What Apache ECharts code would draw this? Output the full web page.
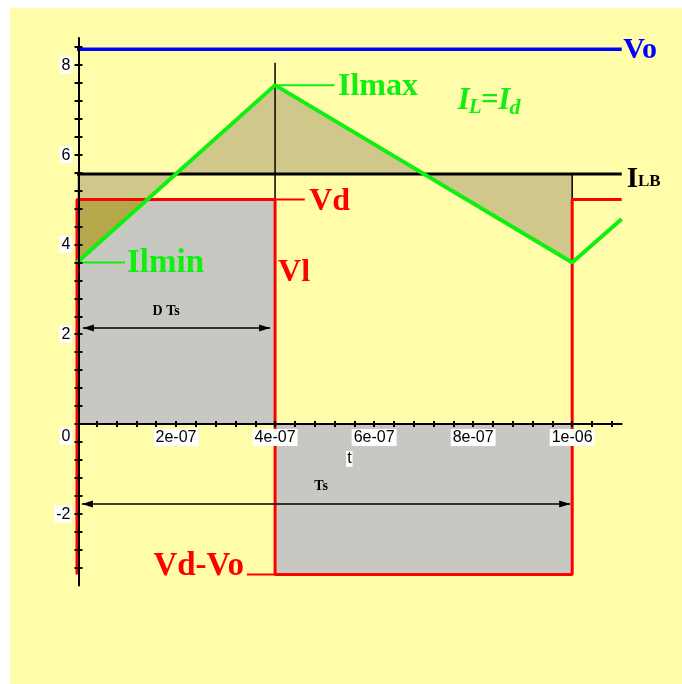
<!DOCTYPE html>
<html>
<head>
<meta charset="utf-8">
<script src="https://cdn.jsdelivr.net/npm/echarts@6/dist/echarts.min.js"></script>
<style>
  html, body { margin: 0; padding: 0; background: #ffffff; }
  #chart { width: 682px; height: 684px; }
</style>
</head>
<body>
<div id="chart"></div>
<script>
// Buck converter: inductor voltage and current over one switching period

// levels
const Vd = 5.0;       // input level
const Vo = 8.35;      // output level
const ILB = 5.57;     // boundary current
const ILmin = 3.6;
const ILmax = 7.55;
const DTs = 4e-7;     // on-time
const Ts = 1e-6;      // period
const tEnd = 1.1e-6;

// waveforms
const inductorVoltage = [[0, Vd - Vo], [0, Vd], [DTs, Vd], [DTs, Vd - Vo], [Ts, Vd - Vo], [Ts, Vd], [tEnd, Vd]];
const inductorCurrent = [[0, ILmin], [DTs, ILmax], [Ts, ILmin], [tEnd, 4.57]];
const outputLevel = [[0, Vo], [tEnd, Vo]];
const boundaryLevel = [[0, ILB], [tEnd, ILB]];

// axis ticks
const xTickValues = [2e-7, 4e-7, 6e-7, 8e-7, 1e-6];
const xTickLabels = ['2e-07', '4e-07', '6e-07', '8e-07', '1e-06'];
const yTickValues = [-2, 0, 2, 4, 6, 8];
const yTickLabels = ['-2', '0', '2', '4', '6', '8'];
const yMin = -3.6, yMax = 8.6;

const xMinor = [];
for (let k = 1; k <= 27; k++) xMinor.push(k * 4e-8);
const yMinor = [];
for (let k = -8; k <= 21; k++) yMinor.push(Math.round(k * 4) / 10);

const SERIF = "'Liberation Serif', 'DejaVu Serif', serif";
const SANS = "'Liberation Sans', Arial, sans-serif";
const RED = '#ff0000', GREEN = '#10f010', BLUE = '#0000ff', BLACK = '#000000';

// point where the rising current reaches Vd (edge of the overlap region)
const tCross = (Vd - ILmin) / (ILmax - ILmin) * DTs;

// filled regions
const regions = [
  { fill: '#c8c8c2', pts: [[0, 0], [0, Vd], [DTs, Vd], [DTs, 0]] },
  { fill: '#c8c8c2', pts: [[DTs, 0], [DTs, Vd - Vo], [Ts, Vd - Vo], [Ts, 0]] },
  { fill: '#d0c88a', pts: [[0, ILmin], [DTs, ILmax], [Ts, ILmin], [Ts, ILB], [0, ILB]] },
  { fill: '#b5a84a', pts: [[0, ILmin], [tCross, Vd], [0, Vd]] }
];

// dimension arrows
const arrows = [
  { t0: 1.2e-8, t1: 3.9e-7, v: 2.14 },
  { t0: 1.0e-8, t1: 9.96e-7, v: -1.78 }
];

// text annotations, anchored in data units
const notes = [
  { t: 1.103e-6, v: 8.33, parts: [{ s: 'Vo', size: 30 }], color: BLUE, align: 'left' },
  { t: 5.27e-7, v: 7.52, parts: [{ s: 'Ilmax', size: 32 }], color: GREEN, align: 'left' },
  { t: 1.01e-7, v: 3.58, parts: [{ s: 'Ilmin', size: 33 }], color: GREEN, align: 'left' },
  { t: 4.69e-7, v: 4.96, parts: [{ s: 'Vd', size: 32 }], color: RED, align: 'left' },
  { t: 4.06e-7, v: 3.36, parts: [{ s: 'Vl', size: 32 }], color: RED, align: 'left' },
  { t: 3.37e-7, v: -3.17, parts: [{ s: 'Vd-Vo', size: 33 }], color: RED, align: 'right' },
  { t: 1.11e-6, v: 5.45, parts: [{ s: 'I', size: 29 }, { s: 'LB', size: 17, dy: 2 }], color: BLACK, align: 'left' },
  { t: 7.69e-7, v: 7.2, parts: [{ s: 'I', size: 31, italic: true }, { s: 'L', size: 21, dy: 7, italic: true }, { s: '=I', size: 31, italic: true }, { s: 'd', size: 22, dy: 7, italic: true }], color: GREEN, align: 'left' },
  { t: 1.8e-7, v: 2.52, parts: [{ s: 'D Ts', size: 14 }], color: BLACK, align: 'center' },
  { t: 4.93e-7, v: -1.4, parts: [{ s: 'Ts', size: 14 }], color: BLACK, align: 'center' }
];

const GRID = { left: 77, right: 60.3, top: 38, bottom: 98.4 };
const plotHeight = 684 - GRID.top - GRID.bottom;
// lift the time axis from the bottom edge of the grid up to v = 0
const zeroOffset = -(0 - yMin) / (yMax - yMin) * plotHeight;

const chart = echarts.init(document.getElementById('chart'), null, { renderer: 'canvas' });

function lineSeries(data, color, width, z) {
  return {
    type: 'line', data: data, showSymbol: false, symbol: 'none', z: z || 5,
    lineStyle: { color: color, width: width }, silent: true, animation: false
  };
}

const measureCtx = document.createElement('canvas').getContext('2d');
function fontOf(p) {
  return (p.italic ? 'italic ' : '') + 'bold ' + p.size + 'px ' + SERIF;
}

const labelRich = {
  n: { backgroundColor: '#ffffff', padding: [1, 2, 0, 2], fontSize: 16, fontFamily: SANS, color: '#000' }
};

function nearestIndex(values, val) {
  let best = 0;
  values.forEach(function (x, i) { if (Math.abs(x - val) < Math.abs(values[best] - val)) best = i; });
  return best;
}

const option = {
  animation: false,
  backgroundColor: 'transparent',
  graphic: [{
    type: 'rect', z: -10, silent: true,
    shape: { x: 10, y: 8, width: 672, height: 676 },
    style: { fill: '#fffcaa' }
  }],
  grid: { left: GRID.left, right: GRID.right, top: GRID.top, bottom: GRID.bottom, containLabel: false },
  xAxis: [
    {
      type: 'value', min: 0, max: tEnd, position: 'bottom', offset: zeroOffset, z: 20,
      splitLine: { show: false },
      axisLine: { show: true, onZero: false, lineStyle: { color: '#000', width: 2 } },
      axisTick: { show: true, inside: false, length: 3, customValues: xMinor, lineStyle: { color: '#000', width: 2 } },
      axisLabel: {
        show: true, customValues: xTickValues, margin: 5,
        formatter: function (val) { return '{n|' + xTickLabels[nearestIndex(xTickValues, val)] + '}'; },
        rich: labelRich
      },
      name: 't', nameLocation: 'middle', nameGap: 25,
      nameTextStyle: { fontSize: 16, fontFamily: SANS, color: '#000', backgroundColor: '#fff', padding: [0, 1] }
    },
    {
      type: 'value', min: 0, max: tEnd, position: 'bottom', offset: zeroOffset, z: 20,
      splitLine: { show: false },
      axisLine: { show: false, onZero: false },
      axisTick: { show: true, inside: true, length: 3, customValues: xMinor, lineStyle: { color: '#000', width: 2 } },
      axisLabel: { show: false }
    }
  ],
  yAxis: [
    {
      type: 'value', min: yMin, max: yMax, position: 'left', offset: -1.5, z: 20,
      splitLine: { show: false },
      axisLine: { show: true, onZero: false, lineStyle: { color: '#000', width: 2 } },
      axisTick: { show: true, inside: false, length: 4, customValues: yMinor, lineStyle: { color: '#000', width: 2 } },
      axisLabel: {
        show: true, customValues: yTickValues, margin: 6,
        formatter: function (val) {
          const i = nearestIndex(yTickValues, val);
          const txt = '{n|' + yTickLabels[i] + '}';
          return yTickValues[i] === 0 ? '\n\n' + txt : txt;
        },
        rich: labelRich
      }
    },
    {
      type: 'value', min: yMin, max: yMax, position: 'left', offset: -1.5, z: 20,
      splitLine: { show: false },
      axisLine: { show: false, onZero: false },
      axisTick: { show: true, inside: true, length: 4, customValues: yMinor, lineStyle: { color: '#000', width: 2 } },
      axisLabel: { show: false }
    }
  ],
  series: [
    // shaded regions
    {
      type: 'custom', z: 1, silent: true, animation: false,
      data: regions.map(function (r) { return r.pts[0]; }),
      renderItem: function (params, api) {
        const r = regions[params.dataIndex];
        return {
          type: 'polygon',
          shape: { points: r.pts.map(function (p) { return api.coord(p); }) },
          style: { fill: r.fill }
        };
      }
    },
    // marker lines
    lineSeries([[DTs, 8.05], [DTs, 4.87]], BLACK, 1.5, 4),
    lineSeries([[Ts, ILB], [Ts, Vd]], BLACK, 1.5, 4),
    lineSeries([[DTs, ILmax], [5.2e-7, ILmax]], GREEN, 2, 4),
    lineSeries([[0, ILmin], [0.97e-7, ILmin]], GREEN, 2, 4),
    lineSeries([[DTs, Vd], [4.6e-7, Vd]], RED, 2, 4),
    lineSeries([[3.43e-7, Vd - Vo], [DTs, Vd - Vo]], RED, 2, 4),
    // main curves
    lineSeries(boundaryLevel, BLACK, 3, 5),
    lineSeries(inductorVoltage, RED, 3, 6),
    lineSeries(inductorCurrent, GREEN, 4, 7),
    lineSeries(outputLevel, BLUE, 3.5, 7),
    // dimension arrows
    {
      type: 'custom', z: 8, silent: true, animation: false,
      data: arrows.map(function (a) { return [a.t0, a.v]; }),
      renderItem: function (params, api) {
        const a = arrows[params.dataIndex];
        const p0 = api.coord([a.t0, a.v]);
        const p1 = api.coord([a.t1, a.v]);
        const L = 11, W = 3.5;
        return {
          type: 'group',
          children: [
            { type: 'line', shape: { x1: p0[0], y1: p0[1], x2: p1[0], y2: p1[1] }, style: { stroke: '#000', lineWidth: 1.5 } },
            { type: 'polygon', shape: { points: [[p0[0], p0[1]], [p0[0] + L, p0[1] - W], [p0[0] + L, p0[1] + W]] }, style: { fill: '#000' } },
            { type: 'polygon', shape: { points: [[p1[0], p1[1]], [p1[0] - L, p1[1] - W], [p1[0] - L, p1[1] + W]] }, style: { fill: '#000' } }
          ]
        };
      }
    },
    // text annotations
    {
      type: 'custom', z: 9, silent: true, animation: false,
      data: notes.map(function (n) { return [n.t, n.v]; }),
      renderItem: function (params, api) {
        const n = notes[params.dataIndex];
        const p = api.coord([n.t, n.v]);
        const widths = n.parts.map(function (part) {
          measureCtx.font = fontOf(part);
          return measureCtx.measureText(part.s).width;
        });
        const total = widths.reduce(function (a, b) { return a + b; }, 0);
        let x = p[0];
        if (n.align === 'right') x -= total;
        else if (n.align === 'center') x -= total / 2;
        const children = [];
        n.parts.forEach(function (part, i) {
          children.push({
            type: 'text',
            x: x, y: p[1] + (part.dy || 0),
            style: {
              text: part.s, font: fontOf(part), fill: n.color,
              align: 'left', verticalAlign: 'middle'
            }
          });
          x += widths[i] - (part.italic ? 1 : 0);
        });
        return { type: 'group', children: children };
      }
    }
  ]
};

chart.setOption(option);
</script>
</body>
</html>
